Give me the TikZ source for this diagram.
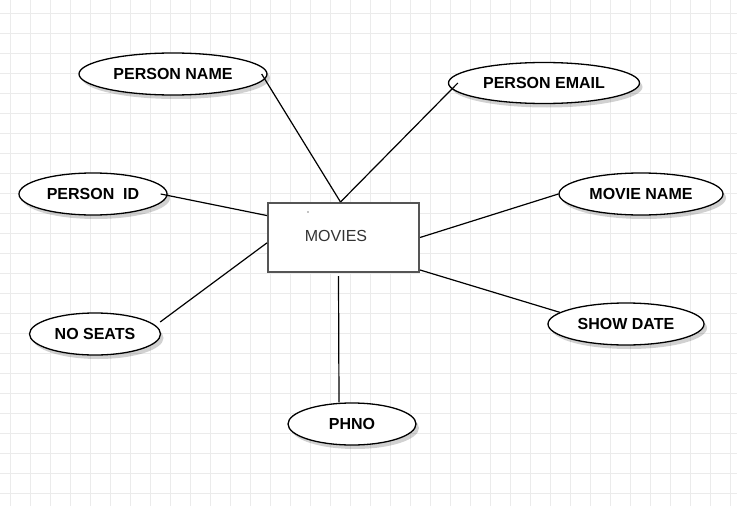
\documentclass[tikz,border=0pt]{standalone}
\usepackage{fontspec}
\setmainfont{Liberation Sans}
\usetikzlibrary{shapes.geometric,shadows}
\definecolor{gridc}{HTML}{EBEBEB}
\definecolor{rectc}{HTML}{555555}
\definecolor{txtc}{HTML}{333333}
\tikzset{
  attr/.style={ellipse, draw=black, line width=1.3pt, fill=white, inner sep=0pt,
    font=\fontsize{16}{19}\selectfont\bfseries,
    drop shadow={shadow xshift=3pt, shadow yshift=-4pt, opacity=0.18, fill=black}},
  ent/.style={rectangle, draw=rectc, line width=2pt, fill=white, inner sep=0pt,
    minimum width=151pt, minimum height=69pt, text=txtc,
    font=\fontsize{16}{19}\selectfont},
  conn/.style={draw=black, line width=1.2pt}
}
\begin{document}
\begin{tikzpicture}[x=1pt,y=-1pt]
\useasboundingbox (0,0) rectangle (737,506);
\fill[white] (0,0) rectangle (737,506);
\foreach \gx in {10,30,...,730} {\draw[gridc, line width=0.8pt] (\gx,0) -- (\gx,506);}
\foreach \gy in {13,33,...,493} {\draw[gridc, line width=0.8pt] (0,\gy) -- (737,\gy);}

\node[ent] (movies) at (343.5,237.5) {};
\node[text=txtc, font=\fontsize{16}{19}\selectfont] (movlbl) at (336,236) {MOVIES};
\fill[black] (308,212) circle (0.6);

\node[attr, minimum width=188pt, minimum height=42pt] (pname) at (173,74) {PERSON NAME};
\node[attr, minimum width=191pt, minimum height=41pt] (pemail) at (544,83) {PERSON EMAIL};
\node[attr, minimum width=148pt, minimum height=42pt] (pid) at (93,194) {PERSON\ \ ID};
\node[attr, minimum width=164pt, minimum height=42pt] (mname) at (641,194) {MOVIE NAME};
\node[attr, minimum width=156pt, minimum height=42pt] (sdate) at (626,324) {SHOW DATE};
\node[attr, minimum width=131pt, minimum height=42pt] (nseats) at (95,334) {NO SEATS};
\node[attr, minimum width=128pt, minimum height=42pt] (phno) at (352,424) {PHNO};

\draw[conn] ([xshift=-6pt]pname.east) -- ([xshift=-3pt]movies.north);
\draw[conn] ([xshift=10pt]pemail.west) -- ([xshift=-3pt]movies.north);
\draw[conn] ([xshift=-7pt]pid.east) -- (movies.164);
\draw[conn] (mname.west) -- (movies.east);
\draw[conn] (sdate.170) -- (movies.-23);
\draw[conn] ([xshift=-1pt,yshift=12pt]nseats.east) -- (movies.184);
\draw[conn] ([xshift=-5pt,yshift=-3pt]movies.south) -- ([xshift=-13pt]phno.north);
\end{tikzpicture}
\end{document}
